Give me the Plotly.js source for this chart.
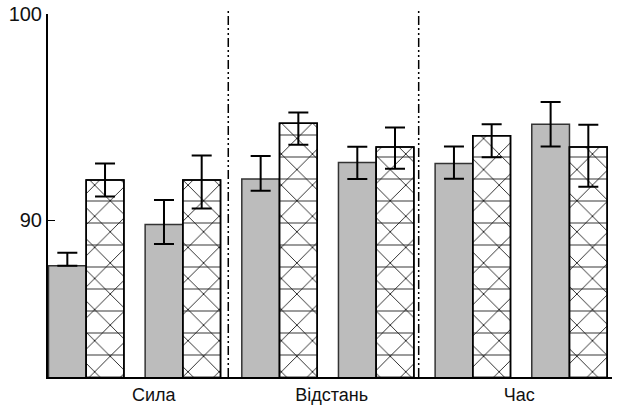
<!DOCTYPE html>
<html>
<head>
<meta charset="utf-8">
<script src="https://cdn.plot.ly/plotly-3.0.1.min.js"></script>
<style>html,body{margin:0;padding:0;background:#fff;}#chart{width:618px;height:406px;}</style>
</head>
<body>
<div id="chart"></div>
<script>
// pair slots (two conditions per slot)
const slots = [0, 1, 2, 3, 4, 5];
const groupLabels = ["Сила", "Відстань", "Час"];
const groupTickPos = [0.7, 2.54, 4.48];
const separatorPos = [1.47, 3.44];

// solid grey bars
const greyValues = [87.8, 89.8, 92.0, 92.8, 92.75, 94.65];
const greyErrPlus = [0.62, 1.18, 1.12, 0.76, 0.82, 1.08];
const greyErrMinus = [0.0, 0.95, 0.57, 0.8, 0.74, 1.08];

// patterned bars
const meshValues = [91.95, 91.95, 94.7, 93.55, 94.1, 93.55];
const meshErrPlus = [0.8, 1.19, 0.52, 0.95, 0.56, 1.08];
const meshErrMinus = [0.8, 1.38, 1.04, 1.05, 1.05, 1.92];

const yTicks = [90, 100];

const W = 0.39;
const errStyle = {color: '#000', thickness: 2, width: 10};

const traces = [
  {
    type: 'bar', x: slots, y: greyValues, width: W, offset: -W,
    marker: {color: '#bcbcbc', line: {color: '#333', width: 1.5}},
    error_y: Object.assign({type: 'data', symmetric: false, array: greyErrPlus, arrayminus: greyErrMinus}, errStyle),
    hoverinfo: 'y'
  },
  {
    type: 'bar', x: slots, y: meshValues, width: W, offset: 0,
    marker: {color: '#ffffff', line: {color: '#000', width: 1.5},
      pattern: {shape: 'x', fgcolor: '#1a1a1a', bgcolor: '#ffffff', size: 22, solidity: 0.08}},
    hoverinfo: 'y'
  },
  {
    type: 'bar', x: slots, y: meshValues, width: W, offset: 0,
    marker: {color: 'rgba(0,0,0,0)', line: {color: '#000', width: 1.5},
      pattern: {shape: '-', fgcolor: '#1a1a1a', bgcolor: 'rgba(0,0,0,0)', fillmode: 'overlay', size: 22, solidity: 0.08}},
    error_y: Object.assign({type: 'data', symmetric: false, array: meshErrPlus, arrayminus: meshErrMinus}, errStyle),
    hoverinfo: 'skip'
  }
];

const shapes = separatorPos.map(p => ({
  type: 'line', xref: 'x', yref: 'paper', x0: p, x1: p, y0: 0, y1: 1.01,
  line: {color: '#000', width: 1.5, dash: '9px,3px,2px,3px,2px,3px'}
}));

const layout = {
  width: 618, height: 406,
  margin: {l: 48, r: 6, t: 14, b: 29},
  paper_bgcolor: '#fff', plot_bgcolor: '#fff',
  showlegend: false,
  barmode: 'overlay',
  font: {family: 'Liberation Sans, Arial, sans-serif', size: 20, color: '#111'},
  xaxis: {
    range: [-0.395, 5.44], tickvals: groupTickPos, ticktext: groupLabels,
    tickfont: {size: 18},
    showgrid: false, zeroline: false, showline: true, linecolor: '#000', linewidth: 2,
    ticks: '', ticklen: 0, ticklabelstandoff: 0, fixedrange: true
  },
  yaxis: {
    range: [82.4, 100], tickvals: yTicks, ticktext: yTicks.map(String),
    showgrid: false, zeroline: false, showline: true, linecolor: '#000', linewidth: 2,
    ticks: 'inside', ticklen: 7, tickwidth: 1.5, tickcolor: '#000', fixedrange: true
  },
  shapes: shapes
};

Plotly.newPlot('chart', traces, layout, {displayModeBar: false, staticPlot: true});
</script>
</body>
</html>
